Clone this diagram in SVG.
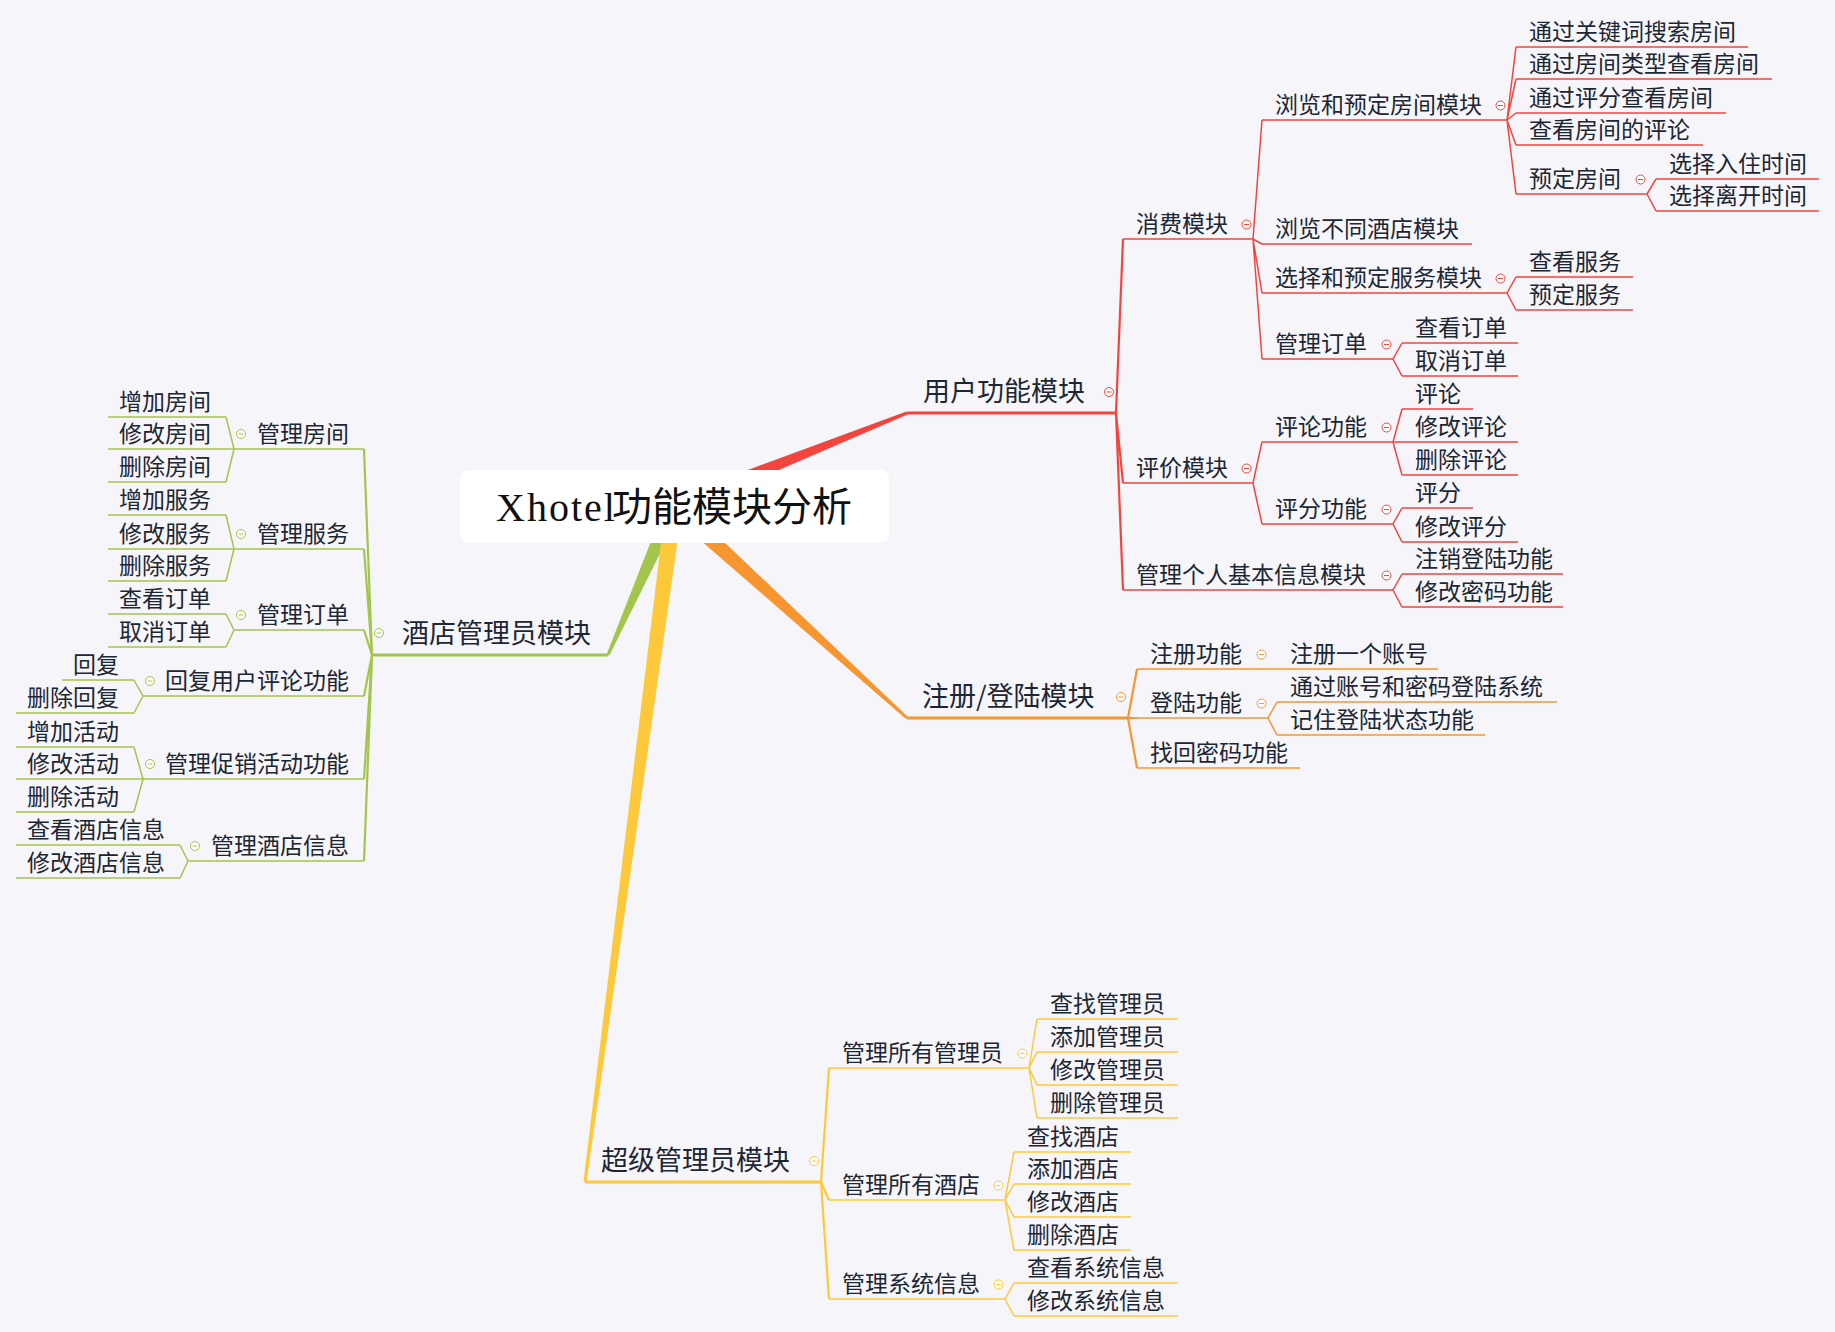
<svg xmlns="http://www.w3.org/2000/svg" xmlns:xlink="http://www.w3.org/1999/xlink" width="1835" height="1332" viewBox="0 0 1835 1332">
<style>
text{font-family:'Noto Sans CJK SC','Noto Sans CJK JP',sans-serif;font-size:23px;fill:#1d2733}
.t1{font-size:27px}
.le{text-anchor:end}
.title{font-size:40px;fill:#111}
.ul{fill:none;stroke-width:1.5}
.ul1{fill:none;stroke-width:3}
.r{stroke:#F1453D}.o{stroke:#F7952F}.g{stroke:#A3C54B}.y{stroke:#FDC93B}
.cr{stroke:#F1453D;fill:none;stroke-width:1.5}
.co{stroke:#F7952F;fill:none;stroke-width:1.5}
.cg{stroke:#A3C54B;fill:none;stroke-width:1.5}
.cy{stroke:#FDC93B;fill:none;stroke-width:1.5}
.w2{stroke-width:2.2}
</style>
<defs>
<g id="minus" stroke-width="1"><circle r="4.5" fill="#fff"/><path d="M-2.5 0H2.5"/></g>
</defs>
<rect width="1835" height="1332" fill="#F5F5FA"/>

<g id="connectors">
<polygon fill="#F1453D" points="677.2,513.9 907.6,414.4 906.4,411.6 670.9,498.1"/>
<polygon fill="#F7952F" points="668.3,512.3 906,719.1 908,716.9 679.7,499.7"/>
<polygon fill="#A3C54B" points="666.2,502.6 606.6,654.4 609.4,655.6 681.8,509.4"/>
<polygon fill="#FDC93B" points="665.6,504.9 583.5,1181.8 586.5,1182.2 682.4,507.1"/>
<!-- red -->
<path class="cr w2" d="M1116 413L1123 239M1116 413L1123 483M1116 413L1123 590"/>
<path class="cr" d="M1253 239L1262 120M1253 239L1262 244M1253 239L1262 293M1253 239L1262 359"/>
<path class="cr" d="M1507 120L1516 47M1507 120L1516 79M1507 120L1516 113M1507 120L1516 145M1507 120L1516 194"/>
<path class="cr" d="M1647 194L1656 179M1647 194L1656 211"/>
<path class="cr" d="M1507 293L1516 277M1507 293L1516 310"/>
<path class="cr" d="M1393 359L1402 343M1393 359L1402 376"/>
<path class="cr" d="M1253 483L1262 442M1253 483L1262 524"/>
<path class="cr" d="M1393 442L1402 409M1393 442L1402 442M1393 442L1402 475"/>
<path class="cr" d="M1393 524L1402 508M1393 524L1402 542"/>
<path class="cr" d="M1393 590L1402 574M1393 590L1402 607"/>
<!-- orange -->
<path class="co w2" d="M1128 718L1137 669M1128 718L1137 718M1128 718L1137 768"/>
<path class="co" d="M1268 669L1277 669"/>
<path class="co" d="M1268 718L1277 702M1268 718L1277 735"/>
<!-- yellow -->
<path class="cy w2" d="M821 1182L829 1068M821 1182L829 1200M821 1182L829 1299"/>
<path class="cy" d="M1029 1068L1037 1019M1029 1068L1037 1052M1029 1068L1037 1085M1029 1068L1037 1118"/>
<path class="cy" d="M1005 1200L1014 1152M1005 1200L1014 1184M1005 1200L1014 1217M1005 1200L1014 1250"/>
<path class="cy" d="M1005 1299L1014 1283M1005 1299L1014 1316"/>
<!-- green -->
<path class="cg w2" d="M372 655L364 449M372 655L364 549M372 655L364 630M372 655L364 696M372 655L364 779M372 655L364 861"/>
<path class="cg" d="M234 449L226 417M234 449L226 449M234 449L226 482"/>
<path class="cg" d="M234 549L226 515M234 549L226 549M234 549L226 581"/>
<path class="cg" d="M234 630L226 614M234 630L226 647"/>
<path class="cg" d="M143 696L134 680M143 696L134 713"/>
<path class="cg" d="M143 779L134 747M143 779L134 779M143 779L134 812"/>
<path class="cg" d="M188 861L180 845M188 861L180 878"/>
</g>

<g id="n-root">
<rect x="460" y="470" width="429" height="73" rx="9" fill="#fff"/>
<text class="title" x="496" y="521"><tspan font-family="'Liberation Serif',serif" letter-spacing="2">Xhotel</tspan><tspan x="612">功能模块分析</tspan></text>
</g>

<!-- red branch -->
<g id="n-user"><path class="ul1 r" d="M907 413H1116"/><text class="t1" x="923" y="401">用户功能模块</text><use xlink:href="#minus" x="1109" y="392" class="r"/></g>
<g id="n-consume"><path class="ul r" d="M1123 239H1253"/><text x="1136" y="232">消费模块</text><use xlink:href="#minus" x="1246.5" y="224.5" class="r"/></g>
<g id="n-browse-book"><path class="ul r" d="M1262 120H1507"/><text x="1275" y="113">浏览和预定房间模块</text><use xlink:href="#minus" x="1500.5" y="105.5" class="r"/></g>
<g id="n-kw"><path class="ul r" d="M1516 47H1748"/><text x="1529" y="40">通过关键词搜索房间</text></g>
<g id="n-type"><path class="ul r" d="M1516 79H1772"/><text x="1529" y="72">通过房间类型查看房间</text></g>
<g id="n-score"><path class="ul r" d="M1516 113H1726"/><text x="1529" y="106">通过评分查看房间</text></g>
<g id="n-review"><path class="ul r" d="M1516 145H1703"/><text x="1529" y="138">查看房间的评论</text></g>
<g id="n-bookroom"><path class="ul r" d="M1516 194H1647"/><text x="1529" y="187">预定房间</text><use xlink:href="#minus" x="1640.5" y="179.5" class="r"/></g>
<g id="n-checkin"><path class="ul r" d="M1656 179H1819"/><text x="1669" y="172">选择入住时间</text></g>
<g id="n-checkout"><path class="ul r" d="M1656 211H1819"/><text x="1669" y="204">选择离开时间</text></g>
<g id="n-browse-hotel"><path class="ul r" d="M1262 244H1472"/><text x="1275" y="237">浏览不同酒店模块</text></g>
<g id="n-service"><path class="ul r" d="M1262 293H1507"/><text x="1275" y="286">选择和预定服务模块</text><use xlink:href="#minus" x="1500.5" y="278.5" class="r"/></g>
<g id="n-viewsvc"><path class="ul r" d="M1516 277H1633"/><text x="1529" y="270">查看服务</text></g>
<g id="n-booksvc"><path class="ul r" d="M1516 310H1633"/><text x="1529" y="303">预定服务</text></g>
<g id="n-order"><path class="ul r" d="M1262 359H1393"/><text x="1275" y="352">管理订单</text><use xlink:href="#minus" x="1386.5" y="344.5" class="r"/></g>
<g id="n-vieworder"><path class="ul r" d="M1402 343H1518"/><text x="1415" y="336">查看订单</text></g>
<g id="n-cancelorder"><path class="ul r" d="M1402 376H1518"/><text x="1415" y="369">取消订单</text></g>
<g id="n-eval"><path class="ul r" d="M1123 483H1253"/><text x="1136" y="476">评价模块</text><use xlink:href="#minus" x="1246.5" y="468.5" class="r"/></g>
<g id="n-comment"><path class="ul r" d="M1262 442H1393"/><text x="1275" y="435">评论功能</text><use xlink:href="#minus" x="1386.5" y="427.5" class="r"/></g>
<g id="n-c1"><path class="ul r" d="M1402 409H1473"/><text x="1415" y="402">评论</text></g>
<g id="n-c2"><path class="ul r" d="M1402 442H1518"/><text x="1415" y="435">修改评论</text></g>
<g id="n-c3"><path class="ul r" d="M1402 475H1518"/><text x="1415" y="468">删除评论</text></g>
<g id="n-rate"><path class="ul r" d="M1262 524H1393"/><text x="1275" y="517">评分功能</text><use xlink:href="#minus" x="1386.5" y="509.5" class="r"/></g>
<g id="n-r1"><path class="ul r" d="M1402 508H1473"/><text x="1415" y="501">评分</text></g>
<g id="n-r2"><path class="ul r" d="M1402 542H1518"/><text x="1415" y="535">修改评分</text></g>
<g id="n-profile"><path class="ul r" d="M1123 590H1393"/><text x="1136" y="583">管理个人基本信息模块</text><use xlink:href="#minus" x="1386.5" y="575.5" class="r"/></g>
<g id="n-p1"><path class="ul r" d="M1402 574H1563"/><text x="1415" y="567">注销登陆功能</text></g>
<g id="n-p2"><path class="ul r" d="M1402 607H1563"/><text x="1415" y="600">修改密码功能</text></g>

<!-- orange branch -->
<g id="n-auth"><path class="ul1 o" d="M907 718H1128"/><text class="t1" x="922" y="706">注册/登陆模块</text><use xlink:href="#minus" x="1121" y="697" class="o"/></g>
<g id="n-reg"><path class="ul o" d="M1137 669H1268"/><text x="1150" y="662">注册功能</text><use xlink:href="#minus" x="1261.5" y="654.5" class="o"/></g>
<g id="n-reg1"><path class="ul o" d="M1277 669H1438"/><text x="1290" y="662">注册一个账号</text></g>
<g id="n-login"><path class="ul o" d="M1137 718H1268"/><text x="1150" y="711">登陆功能</text><use xlink:href="#minus" x="1261.5" y="703.5" class="o"/></g>
<g id="n-login1"><path class="ul o" d="M1277 702H1557"/><text x="1290" y="695">通过账号和密码登陆系统</text></g>
<g id="n-login2"><path class="ul o" d="M1277 735H1485"/><text x="1290" y="728">记住登陆状态功能</text></g>
<g id="n-findpw"><path class="ul o" d="M1137 768H1300"/><text x="1150" y="761">找回密码功能</text></g>

<!-- yellow branch -->
<g id="n-super"><path class="ul1 y" d="M585 1182H821"/><text class="t1" x="601" y="1170">超级管理员模块</text><use xlink:href="#minus" x="814" y="1161" class="y"/></g>
<g id="n-admins"><path class="ul y" d="M829 1068H1029"/><text x="842" y="1061">管理所有管理员</text><use xlink:href="#minus" x="1022.5" y="1053.5" class="y"/></g>
<g id="n-a1"><path class="ul y" d="M1037 1019H1178"/><text x="1050" y="1012">查找管理员</text></g>
<g id="n-a2"><path class="ul y" d="M1037 1052H1178"/><text x="1050" y="1045">添加管理员</text></g>
<g id="n-a3"><path class="ul y" d="M1037 1085H1178"/><text x="1050" y="1078">修改管理员</text></g>
<g id="n-a4"><path class="ul y" d="M1037 1118H1178"/><text x="1050" y="1111">删除管理员</text></g>
<g id="n-hotels"><path class="ul y" d="M829 1200H1005"/><text x="842" y="1193">管理所有酒店</text><use xlink:href="#minus" x="998.5" y="1185.5" class="y"/></g>
<g id="n-h1"><path class="ul y" d="M1014 1152H1131"/><text x="1027" y="1145">查找酒店</text></g>
<g id="n-h2"><path class="ul y" d="M1014 1184H1131"/><text x="1027" y="1177">添加酒店</text></g>
<g id="n-h3"><path class="ul y" d="M1014 1217H1131"/><text x="1027" y="1210">修改酒店</text></g>
<g id="n-h4"><path class="ul y" d="M1014 1250H1131"/><text x="1027" y="1243">删除酒店</text></g>
<g id="n-sys"><path class="ul y" d="M829 1299H1005"/><text x="842" y="1292">管理系统信息</text><use xlink:href="#minus" x="998.5" y="1284.5" class="y"/></g>
<g id="n-s1"><path class="ul y" d="M1014 1283H1178"/><text x="1027" y="1276">查看系统信息</text></g>
<g id="n-s2"><path class="ul y" d="M1014 1316H1178"/><text x="1027" y="1309">修改系统信息</text></g>

<!-- green branch -->
<g id="n-hoteladmin"><path class="ul1 g" d="M372 655H608"/><text class="t1 le" x="591" y="643">酒店管理员模块</text><use xlink:href="#minus" x="379" y="633" class="g"/></g>
<g id="n-rooms"><path class="ul g" d="M234 449H364"/><text class="le" x="349" y="442">管理房间</text><use xlink:href="#minus" x="241" y="434" class="g"/></g>
<g id="n-room1"><path class="ul g" d="M108 417H226"/><text class="le" x="211" y="410">增加房间</text></g>
<g id="n-room2"><path class="ul g" d="M108 449H226"/><text class="le" x="211" y="442">修改房间</text></g>
<g id="n-room3"><path class="ul g" d="M108 482H226"/><text class="le" x="211" y="475">删除房间</text></g>
<g id="n-services"><path class="ul g" d="M234 549H364"/><text class="le" x="349" y="542">管理服务</text><use xlink:href="#minus" x="241" y="534" class="g"/></g>
<g id="n-svc1"><path class="ul g" d="M108 515H226"/><text class="le" x="211" y="508">增加服务</text></g>
<g id="n-svc2"><path class="ul g" d="M108 549H226"/><text class="le" x="211" y="542">修改服务</text></g>
<g id="n-svc3"><path class="ul g" d="M108 581H226"/><text class="le" x="211" y="574">删除服务</text></g>
<g id="n-orders"><path class="ul g" d="M234 630H364"/><text class="le" x="349" y="623">管理订单</text><use xlink:href="#minus" x="241" y="615" class="g"/></g>
<g id="n-ord1"><path class="ul g" d="M108 614H226"/><text class="le" x="211" y="607">查看订单</text></g>
<g id="n-ord2"><path class="ul g" d="M108 647H226"/><text class="le" x="211" y="640">取消订单</text></g>
<g id="n-replies"><path class="ul g" d="M143 696H364"/><text class="le" x="349" y="689">回复用户评论功能</text><use xlink:href="#minus" x="150" y="681" class="g"/></g>
<g id="n-rep1"><path class="ul g" d="M62 680H134"/><text class="le" x="119" y="673">回复</text></g>
<g id="n-rep2"><path class="ul g" d="M16 713H134"/><text class="le" x="119" y="706">删除回复</text></g>
<g id="n-promo"><path class="ul g" d="M143 779H364"/><text class="le" x="349" y="772">管理促销活动功能</text><use xlink:href="#minus" x="150" y="764" class="g"/></g>
<g id="n-pr1"><path class="ul g" d="M16 747H134"/><text class="le" x="119" y="740">增加活动</text></g>
<g id="n-pr2"><path class="ul g" d="M16 779H134"/><text class="le" x="119" y="772">修改活动</text></g>
<g id="n-pr3"><path class="ul g" d="M16 812H134"/><text class="le" x="119" y="805">删除活动</text></g>
<g id="n-hinfo"><path class="ul g" d="M188 861H364"/><text class="le" x="349" y="854">管理酒店信息</text><use xlink:href="#minus" x="195" y="846" class="g"/></g>
<g id="n-hi1"><path class="ul g" d="M16 845H180"/><text class="le" x="165" y="838">查看酒店信息</text></g>
<g id="n-hi2"><path class="ul g" d="M16 878H180"/><text class="le" x="165" y="871">修改酒店信息</text></g>
</svg>
